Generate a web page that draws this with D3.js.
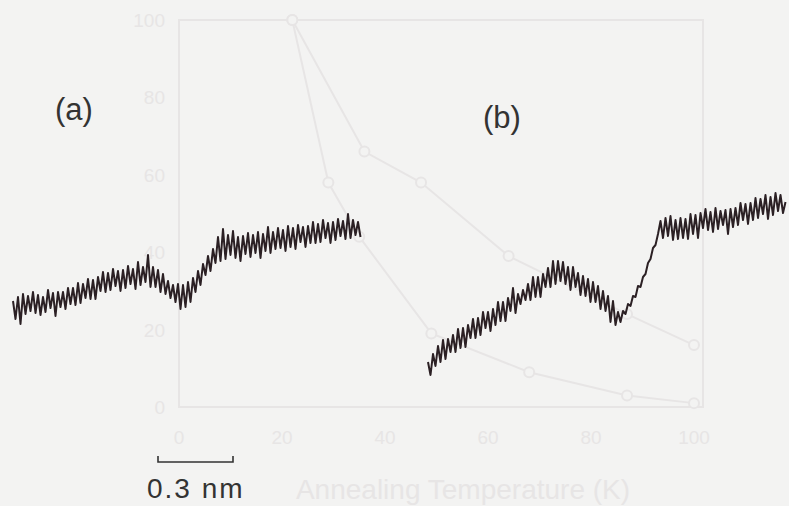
<!DOCTYPE html>
<html>
<head>
<meta charset="utf-8">
<script src="https://cdn.jsdelivr.net/npm/d3@7"></script>
<style>
  html, body { margin: 0; padding: 0; background: #f3f3f2; }
  svg { display: block; }
</style>
</head>
<body>
<svg id="chart" width="789" height="506"></svg>
<script>
// Line profiles, heights in pm, sampled every 0.01 nm along the scan
const sampleStep = 0.01;
const profileA = [
  4.5, -4.5, 6.5, -7, 8, -2, 7, -0.5, 9, -1.5, 7.5, -2.5, 6.5, -1, 10, 1, 8.5, -3, 9, 1.5,
  9, 0.5, 11, 3, 11, 2.5, 13.5, 3.5, 13, 6, 15.5, 5.5, 15, 5.5, 16.5, 9.5, 19, 9, 18.5, 10,
  20.5, 12, 19.5, 9.5, 20, 11, 22, 13, 20.5, 10.5, 24, 12.5, 21.5, 14, 27.5, 11.5, 21.5, 11.5, 20, 9,
  18, 8, 14.5, 6, 12.5, 4, 13, 0.5, 12.5, 1.5, 14, 4, 16, 9, 19.5, 12.5, 23, 17.5, 27, 19.5,
  30.5, 23.5, 36.5, 24.5, 40.5, 25.5, 37.5, 27.5, 39.5, 26, 36.5, 24.5, 37, 28, 38.5, 26.5, 37.5, 28.5, 39, 26,
  38, 29.5, 41.5, 28.5, 39, 30.5, 41, 31, 40, 29.5, 42, 31.5, 41, 30.5, 42.5, 34, 41.5, 31.5, 42, 33.5,
  44, 33.5, 43, 34, 45, 36, 43.5, 33.5, 44, 35, 45.5, 37, 44.5, 35.5, 48, 36, 45, 37.5, 44, 36.5
];
const profileB = [
  4, -2.5, 8, 2, 12, 4, 15, 5.5, 15.5, 9, 17.5, 9, 20.5, 11, 21, 11.5, 22.5, 16, 25.5, 16,
  26, 17.5, 29, 21, 29, 19.5, 30.5, 22.5, 34, 24.5, 34, 24.5, 36, 29.5, 41, 28.5, 38, 33, 40, 35,
  43, 35, 46.5, 36.5, 46.5, 36.5, 48, 41.5, 51, 41.5, 54.5, 43, 54.5, 44.5, 54, 43, 51.5, 40, 51.5, 41.5,
  48.5, 37.5, 47, 37, 45.5, 34, 44, 34, 42, 30.5, 39.5, 29.5, 37, 24, 34.5, 22.5, 29, 24, 29.5, 28,
  33, 32, 37, 36.5, 42, 41.5, 46.5, 48, 53.5, 55.5, 61, 62.5, 68, 74.5, 66, 76, 67, 77, 65, 75,
  65.5, 76, 66, 75.5, 65.5, 78, 68, 77.5, 66, 78.5, 71, 80.5, 70, 79, 69, 81, 70.5, 79.5, 72.5, 80,
  68, 80.5, 71.5, 81, 72.5, 83.5, 75, 83, 73, 83.5, 75, 86, 76, 85.5, 78, 87.5, 75.5, 86.5, 77.5, 88.5,
  79.5, 87.5, 78.5, 84
];
const panelLabels = ["(a)", "(b)"];
const scaleBarLength = 0.3;           // nm
const scaleBarLabel = "0.3 nm";

// Faint figure printed on the reverse of the sheet
const ghostXTicks = [0, 20, 40, 60, 80, 100];
const ghostYTicks = [0, 20, 40, 60, 80, 100];
const ghostXTitle = "Annealing Temperature  (K)";
const ghostUpper = [[22, 100], [36, 66], [47, 58], [64, 39], [87, 24], [100, 16]];
const ghostLower = [[22, 100], [29, 58], [35, 44], [49, 19], [68, 9], [87, 3], [100, 1]];

const svg = d3.select("#chart");
const ink = "#2b2024";
const ghost = "#e7e5e5";

// ---- reverse-side figure (very faint) ----
const gx = d3.scaleLinear().domain([0, 100]).range([179, 694]);
const gy = d3.scaleLinear().domain([0, 100]).range([407, 20]);
const gBack = svg.append("g");
gBack.append("rect")
  .attr("x", 179).attr("y", 20).attr("width", 524).attr("height", 387)
  .attr("fill", "none").attr("stroke", ghost).attr("stroke-width", 2);
gBack.selectAll("text.gxt").data(ghostXTicks).join("text")
  .attr("x", d => gx(d)).attr("y", 444)
  .attr("text-anchor", "middle")
  .attr("font-family", "Liberation Sans, Arial, sans-serif")
  .attr("font-size", 19).attr("fill", ghost).text(d => d);
gBack.selectAll("text.gyt").data(ghostYTicks).join("text")
  .attr("x", 165).attr("y", d => gy(d) + 7)
  .attr("text-anchor", "end")
  .attr("font-family", "Liberation Sans, Arial, sans-serif")
  .attr("font-size", 19).attr("fill", ghost).text(d => d);
gBack.append("text")
  .attr("x", 463).attr("y", 499)
  .attr("text-anchor", "middle")
  .attr("font-family", "Liberation Sans, Arial, sans-serif")
  .attr("font-size", 28).attr("fill", ghost).text(ghostXTitle);
const gLine = d3.line().x(d => gx(d[0])).y(d => gy(d[1]));
[ghostUpper, ghostLower].forEach(series => {
  gBack.append("path").attr("d", gLine(series))
    .attr("fill", "none").attr("stroke", ghost).attr("stroke-width", 2);
  gBack.selectAll(null).data(series).join("circle")
    .attr("cx", d => gx(d[0])).attr("cy", d => gy(d[1])).attr("r", 5)
    .attr("fill", "#f3f3f2").attr("stroke", ghost).attr("stroke-width", 2);
});

// ---- line profiles ----
const xs = d3.scaleLinear().domain([0, 0.3]).range([0, 75]);   // nm -> px
const ys = d3.scaleLinear().domain([0, 10]).range([0, -20]);   // pm -> px
const profileLine = d3.line()
  .x((d, i) => xs(i * sampleStep))
  .y(d => ys(d));

const panels = [
  { data: profileA, x0: 13, y0: 310 },
  { data: profileB, x0: 428, y0: 370 }
];
panels.forEach(p => {
  svg.append("g").attr("transform", `translate(${p.x0},${p.y0})`)
    .append("path")
    .attr("d", profileLine(p.data))
    .attr("fill", "none")
    .attr("stroke", ink)
    .attr("stroke-width", 2)
    .attr("stroke-linejoin", "round");
});

// panel labels
const labelPos = [[55, 120], [483, 128]];
svg.selectAll("text.panel").data(panelLabels).join("text")
  .attr("class", "panel")
  .attr("x", (d, i) => labelPos[i][0]).attr("y", (d, i) => labelPos[i][1])
  .attr("font-family", "Liberation Sans, Arial, sans-serif")
  .attr("font-size", 31).attr("fill", "#333").text(d => d);

// scale bar
const sb = svg.append("g").attr("transform", "translate(158,462)");
sb.append("path")
  .attr("d", `M0,-6 V0 H${xs(scaleBarLength)} V-6`)
  .attr("fill", "none").attr("stroke", "#333").attr("stroke-width", 1.6);
svg.append("text")
  .attr("x", 147).attr("y", 498)
  .attr("font-family", "Liberation Sans, Arial, sans-serif")
  .attr("font-size", 28).attr("letter-spacing", 2).attr("fill", "#333")
  .text(scaleBarLabel);
</script>
</body>
</html>
